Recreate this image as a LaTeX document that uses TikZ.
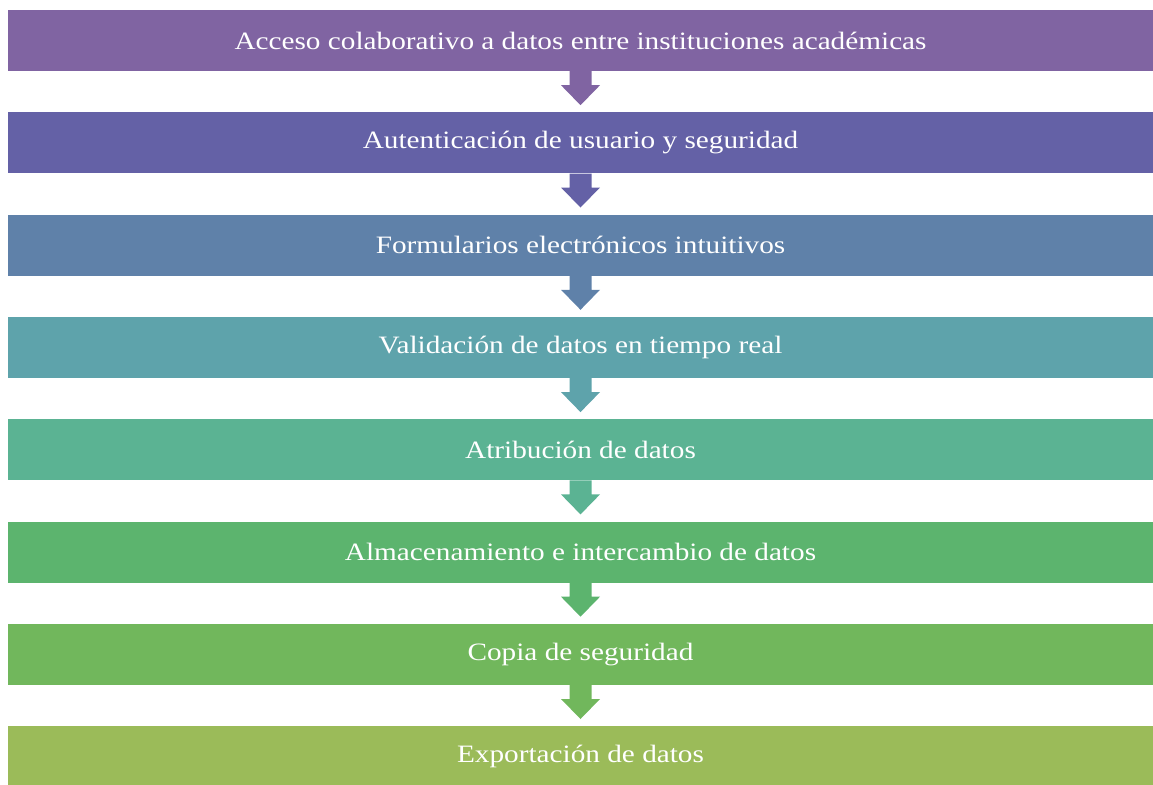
\documentclass[tikz,border=0pt]{standalone}
\usepackage{fontspec}
\setmainfont{Liberation Serif}
\definecolor{c1}{HTML}{8064A2}
\definecolor{c2}{HTML}{6461A6}
\definecolor{c3}{HTML}{5F81A9}
\definecolor{c4}{HTML}{5EA3AB}
\definecolor{c5}{HTML}{5BB393}
\definecolor{c6}{HTML}{5CB46E}
\definecolor{c7}{HTML}{71B75C}
\definecolor{c8}{HTML}{9BBB59}
\begin{document}
\begin{tikzpicture}[x=1pt,y=-1pt,
  bar/.style={minimum width=1145pt,minimum height=61pt,inner sep=0pt,text=white,
    font=\fontsize{25}{30}\selectfont}]
\useasboundingbox (0,0) rectangle (1153,784);
\foreach \i/\t in {1/{Acceso colaborativo a datos entre instituciones académicas},
  2/{Autenticación de usuario y seguridad},
  3/{Formularios electrónicos intuitivos},
  4/{Validación de datos en tiempo real},
  5/{Atribución de datos},
  6/{Almacenamiento e intercambio de datos},
  7/{Copia de seguridad},
  8/{Exportación de datos}}{
  \node[bar,fill=c\i] (b\i) at (580.5,{40.5+102.3*(\i-1)}) {\scalebox{1.17}[1]{\t}};
}
\foreach \i in {1,...,7}{
  \fill[c\i] ([xshift=-11pt]b\i.south) -- ++(0,14) -- ++(-8.5,0)
    -- ([yshift=-34pt]b\i.south) -- ([xshift=19.5pt,yshift=-14pt]b\i.south)
    -- ++(-8.5,0) -- ([xshift=11pt]b\i.south) -- cycle;
}
\end{tikzpicture}
\end{document}
